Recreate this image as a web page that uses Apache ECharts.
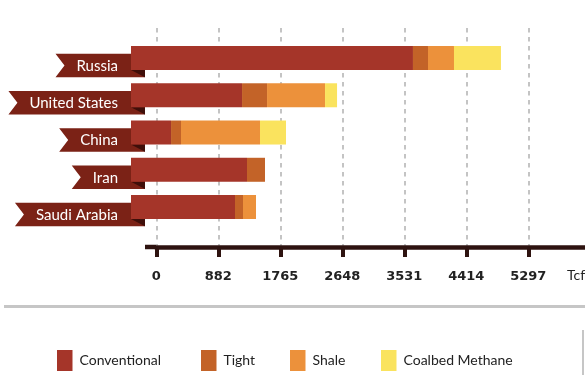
<!DOCTYPE html>
<html>
<head>
<meta charset="utf-8">
<script src="https://cdn.jsdelivr.net/npm/echarts@6/dist/echarts.min.js"></script>
<style>
  html, body { margin: 0; padding: 0; background: #fff; }
  #chart { width: 585px; height: 375px; }
</style>
</head>
<body>
<div id="chart"></div>
<script>
// data (Tcf)
const countries = ['Russia', 'United States', 'China', 'Iran', 'Saudi Arabia']
const conventional = [4015, 1581, 570, 1652, 1481]
const tight = [214, 356, 142, 256, 114]
const shale = [370, 826, 1125, 0, 185]
const coalbed = [669, 171, 370, 0, 0]
const tickLabels = ['0', '882', '1765', '2648', '3531', '4414', '5297']
const seriesNames = ['Conventional', 'Tight', 'Shale', 'Coalbed Methane']
const colors = ['#a53529', '#c36328', '#ec913b', '#fae35e']

const tickStep = 5297 / 6
const pxPerTick = 62
const unitsPerPx = tickStep / pxPerTick

const measureCtx = document.createElement('canvas').getContext('2d')
const ribbonFont = '15px Lato'
function textWidth(t) {
  measureCtx.font = ribbonFont
  return measureCtx.measureText(t).width
}

const chart = echarts.init(document.getElementById('chart'))

function ribbon(params, api) {
  const p = api.coord([api.value(0), api.value(1)])
  const name = countries[api.value(1)]
  const right = p[0]
  const cy = p[1] + 7.5
  const top = cy - 11.75
  const bottom = cy + 11.75
  const textRight = right - 13
  const left = textRight - textWidth(name) - 21
  const fold = 14
  return {
    type: 'group',
    children: [
      {
        type: 'polygon',
        shape: { points: [[left, top], [right + fold, top], [right + fold, bottom], [left, bottom], [left + 9, cy]] },
        style: { fill: '#7b2216' }
      },
      {
        type: 'polygon',
        shape: { points: [[right, p[1] + 12], [right + fold, p[1] + 12], [right + fold, bottom]] },
        style: { fill: '#3f0f0a' }
      },
      {
        type: 'text',
        style: {
          text: name, x: textRight, y: cy + 0.5, align: 'right', verticalAlign: 'middle',
          fill: '#fff', font: ribbonFont
        }
      }
    ]
  }
}

const values = [conventional, tight, shale, coalbed]
const legendLeft = [57, 201, 290, 381]

chart.setOption({
  animation: false,
  textStyle: { fontFamily: 'Lato' },
  grid: [
    { left: 131, top: 39.4, width: 454, height: 186.25, outerBoundsMode: 'none' },
    { left: 156.3, top: 28, width: pxPerTick * 7, height: 219, outerBoundsMode: 'none' }
  ],
  xAxis: [
    { gridIndex: 0, type: 'value', min: 0, max: 454 * unitsPerPx, show: false },
    {
      gridIndex: 1, type: 'value', min: 0, max: tickStep * 7, interval: tickStep,
      axisLine: { show: true, lineStyle: { color: '#2e1310', width: 4.5 } },
      axisTick: { show: true, length: 10, lineStyle: { color: '#2e1310', width: 4 } },
      splitLine: { show: true, lineStyle: { color: '#c4c4c4', width: 2, type: [4.5, 4.5] } },
      axisLabel: {
        margin: 23,
        color: '#222',
        fontFamily: 'DejaVu Sans',
        fontWeight: 'bold',
        fontSize: 13,
        formatter: (v, i) => tickLabels[i] || ''
      }
    }
  ],
  yAxis: [
    { gridIndex: 0, type: 'category', data: countries, inverse: true, show: false },
    { gridIndex: 1, type: 'value', show: false }
  ],
  legend: seriesNames.map((n, i) => ({
    data: [n],
    left: legendLeft[i],
    top: 350,
    padding: 0,
    icon: 'rect',
    itemWidth: 15.5,
    itemHeight: 21,
    selectedMode: false,
    textStyle: { fontFamily: 'Lato', fontSize: 14, color: '#222', padding: [4, 0, 0, 2] }
  })),
  title: {
    text: 'Tcf', left: 567, top: 268, padding: 0,
    textStyle: { fontFamily: 'Lato', fontSize: 14, fontWeight: 'normal', color: '#222' }
  },
  graphic: [
    { type: 'rect', shape: { x: 145, y: 244.75, width: 13, height: 4.5 }, style: { fill: '#2e1310' } },
    { type: 'rect', shape: { x: 4, y: 305, width: 581, height: 3 }, style: { fill: '#c6c6c6' } },
    { type: 'rect', shape: { x: 582, y: 330, width: 2, height: 45 }, style: { fill: '#c6c6c6' } }
  ],
  series: seriesNames.map((n, i) => ({
    name: n,
    type: 'bar',
    stack: 'total',
    xAxisIndex: 0,
    yAxisIndex: 0,
    barWidth: 24,
    itemStyle: { color: colors[i] },
    data: values[i]
  })).concat([{
    type: 'custom',
    xAxisIndex: 0,
    yAxisIndex: 0,
    z: 1,
    clip: false,
    renderItem: ribbon,
    encode: { x: 0, y: 1 },
    data: countries.map((c, i) => [0, i])
  }])
})
</script>
</body>
</html>
